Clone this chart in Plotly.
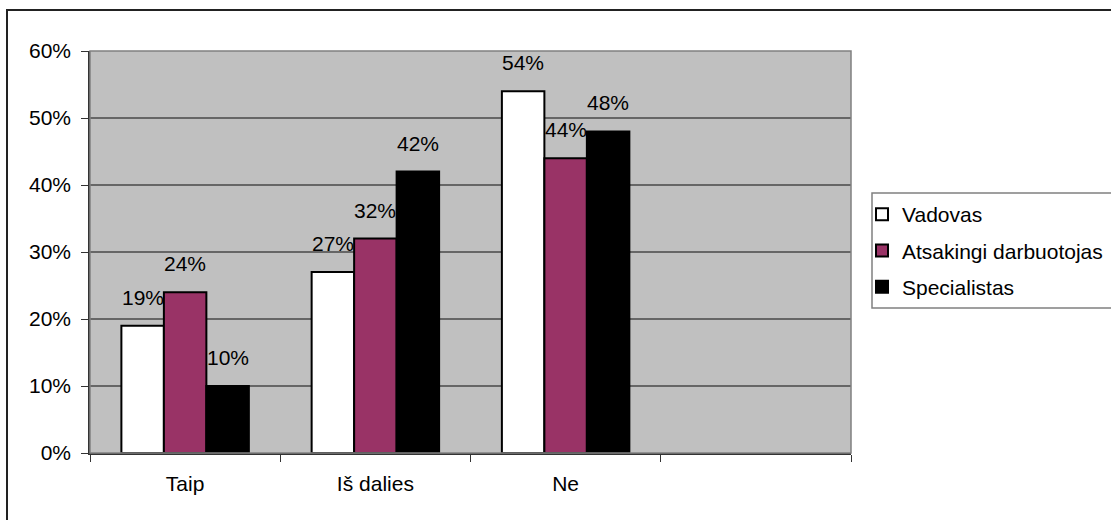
import plotly.graph_objects as go

categories = ["Taip", "Iš dalies", "Ne", " "]
vadovas = [19, 27, 54]
atsakingi = [24, 32, 44]
specialistas = [10, 42, 48]
series_names = ["Vadovas", "Atsakingi darbuotojas", "Specialistas"]
y_ticks = [0, 10, 20, 30, 40, 50, 60]

colors = ["#FFFFFF", "#993366", "#000000"]
FONT = "Liberation Sans, Arial, sans-serif"
FS = 21

W, H = 1111, 520
L, R, T, B = 90, 260, 51, 67
pw, ph = W - L - R, H - T - B
BARGAP = 0.33
cat_px = pw / 4
bar_px = cat_px * (1 - BARGAP) / 3

all_series = [vadovas, atsakingi, specialistas]

fig = go.Figure()
annotations = []
for i, (name, vals) in enumerate(zip(series_names, all_series)):
    fig.add_trace(go.Bar(
        x=categories[:3], y=vals, name=name,
        marker=dict(color=colors[i], line=dict(color="#000000", width=2)),
        legendgroup=name,
    ))
    for cat, v in zip(categories[:3], vals):
        annotations.append(dict(
            x=cat, y=v, xref="x", yref="y", text=f"{v}%", showarrow=False,
            xanchor="center", yanchor="bottom", xshift=(i - 1) * bar_px,
            yshift=15, font=dict(family=FONT, size=FS, color="#000000"),
        ))

def px_x(x):
    return (x - L) / pw

def px_y(y):
    return (H - B - y) / ph

shapes = [
    dict(type="rect", xref="paper", yref="paper", x0=0, x1=1, y0=0, y1=1,
         line=dict(color="#808080", width=1.5), layer="above"),
    dict(type="rect", xref="paper", yref="paper", x0=px_x(7), x1=px_x(1125),
         y0=px_y(535), y1=px_y(10), line=dict(color="#222222", width=2)),
    dict(type="rect", xref="paper", yref="paper", x0=px_x(872), x1=px_x(1125),
         y0=px_y(308), y1=px_y(193), line=dict(color="#808080", width=1.5)),
]

fig.update_layout(
    width=W, height=H,
    margin=dict(l=L, r=R, t=T, b=B, pad=0, autoexpand=False),
    paper_bgcolor="#FFFFFF", plot_bgcolor="#C0C0C0",
    barmode="group", bargap=BARGAP, bargroupgap=0,
    font=dict(family=FONT, size=FS, color="#000000"),
    showlegend=True,
    legend=dict(x=px_x(862), y=px_y(194), xanchor="left", yanchor="top",
                bgcolor="rgba(0,0,0,0)", borderwidth=0,
                font=dict(family=FONT, size=FS, color="#000000"),
                tracegroupgap=6, itemwidth=30),
    shapes=shapes,
    annotations=annotations,
)
fig.update_xaxes(
    type="category", categoryorder="array", categoryarray=categories,
    range=[-0.5, 3.5], tickson="boundaries", ticks="outside", ticklen=7,
    tickcolor="#333333", showgrid=False, showline=True, linecolor="#333333",
    linewidth=2, tickfont=dict(family=FONT, size=FS, color="#000000"),
    ticklabelstandoff=11, fixedrange=True,
)
fig.update_yaxes(
    range=[0, 60], tickvals=y_ticks, ticktext=[f"{v}%" for v in y_ticks],
    ticks="outside", ticklen=7, tickcolor="#333333",
    showgrid=True, gridcolor="#666666", gridwidth=1.5,
    showline=True, linecolor="#333333", linewidth=1.5, zeroline=False,
    tickfont=dict(family=FONT, size=FS, color="#000000"),
    ticklabelstandoff=6, fixedrange=True,
)

fig.write_html("out.html")
